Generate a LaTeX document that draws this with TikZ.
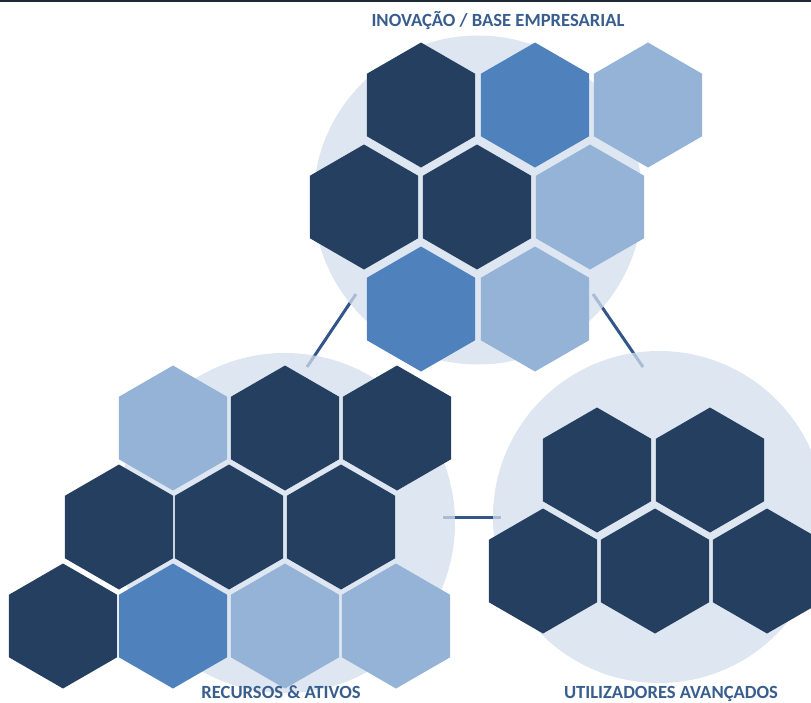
\documentclass[tikz,border=0pt]{standalone}
\usepackage{fontspec}
\setmainfont{Carlito}
\usetikzlibrary{shapes.geometric}
\definecolor{hexdark}{RGB}{36,63,96}
\definecolor{hexmid}{RGB}{79,129,189}
\definecolor{hexlight}{RGB}{149,179,215}
\definecolor{circfill}{RGB}{211,223,236}
\definecolor{linkcol}{RGB}{50,85,138}
\definecolor{labelcol}{RGB}{56,94,142}
\definecolor{topbar}{RGB}{31,42,54}
\begin{document}
\begin{tikzpicture}[x=1pt,y=-1pt,
  hexbase/.style={regular polygon, regular polygon sides=6, shape border rotate=30,
    minimum size=125pt, inner sep=0pt, outer sep=0pt, draw=none},
  hd/.style={hexbase, fill=hexdark},
  hm/.style={hexbase, fill=hexmid},
  hl/.style={hexbase, fill=hexlight},
  halo/.style={circle, fill=circfill, fill opacity=0.75, draw=none, inner sep=0pt, outer sep=0pt},
  link/.style={draw=linkcol, line width=3pt},
  lbl/.style={font=\bfseries\fontsize{18.6}{22}\selectfont, text=labelcol, anchor=base, inner sep=0pt}]
\useasboundingbox (0,0) rectangle (811,702);
\fill[topbar] (0,0) rectangle (811,2.2);
% connectors
\coordinate (l1a) at (356,294);
\coordinate (l1b) at (307,367);
\coordinate (l2a) at (593,294);
\coordinate (l2b) at (643,367);
\coordinate (l3a) at (443,517);
\coordinate (l3b) at (501,517);
\draw[link] (l1a) -- (l1b);
\draw[link] (l2a) -- (l2b);
\draw[link] (l3a) -- (l3b);
% halos
\node[halo, minimum size=329pt] (ctop) at (478,200) {};
\node[halo, minimum size=340pt] (cleft) at (285,523) {};
\node[halo, minimum size=332pt] (cright) at (659,517) {};
% top cluster
\node[hd] (t11) at (421,105) {};
\node[hm] (t12) at (535,105) {};
\node[hl] (t13) at (648,105) {};
\node[hd] (t21) at (364,207) {};
\node[hd] (t22) at (477,207) {};
\node[hl] (t23) at (590,207) {};
\node[hm] (t31) at (421,309) {};
\node[hl] (t32) at (535,309) {};
% bottom-left cluster
\node[hl] (l11) at (173,428) {};
\node[hd] (l12) at (285,428) {};
\node[hd] (l13) at (397,428) {};
\node[hd] (l21) at (119,527) {};
\node[hd] (l22) at (229,527) {};
\node[hd] (l23) at (341,527) {};
\node[hd] (l31) at (63,626) {};
\node[hm] (l32) at (173,626) {};
\node[hl] (l33) at (285,626) {};
\node[hl] (l34) at (396,626) {};
% bottom-right cluster
\node[hd] (r11) at (597,470) {};
\node[hd] (r12) at (710,470) {};
\node[hd] (r21) at (543,571) {};
\node[hd] (r22) at (655,571) {};
\node[hd] (r23) at (767,571) {};
% labels
\node[lbl] (ttop) at (498,26) {INOVAÇÃO / BASE EMPRESARIAL};
\node[lbl] (tleft) at (281,698) {RECURSOS \& ATIVOS};
\node[lbl] (tright) at (671,698) {UTILIZADORES AVANÇADOS};
\end{tikzpicture}
\end{document}
